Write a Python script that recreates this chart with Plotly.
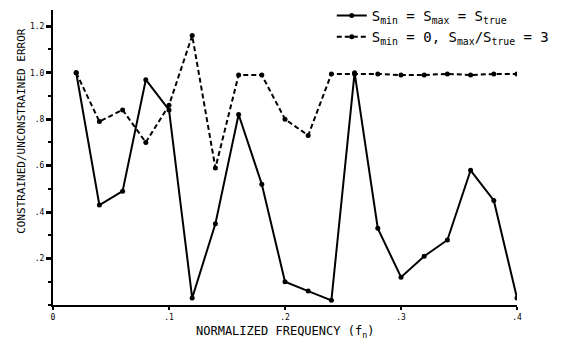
import plotly.graph_objects as go

freq = [0.02, 0.04, 0.06, 0.08, 0.10, 0.12, 0.14, 0.16, 0.18, 0.20,
        0.22, 0.24, 0.26, 0.28, 0.30, 0.32, 0.34, 0.36, 0.38, 0.40]
err_equal = [1.00, 0.43, 0.49, 0.97, 0.84, 0.03, 0.35, 0.82, 0.52, 0.10,
             0.06, 0.02, 1.00, 0.33, 0.12, 0.21, 0.28, 0.58, 0.45, 0.03]
err_bounded = [1.00, 0.79, 0.84, 0.70, 0.86, 1.16, 0.59, 0.99, 0.99, 0.80,
               0.73, 0.995, 0.995, 0.995, 0.99, 0.99, 0.995, 0.99, 0.995, 0.995]

x_ticks = [0, 0.1, 0.2, 0.3, 0.4]
x_tick_text = ["0", ".1", ".2", ".3", ".4"]
y_ticks = [0.2, 0.4, 0.6, 0.8, 1.0, 1.2]
y_tick_text = [".2", ".4", ".6", ".8", "1.0", "1.2"]

FONT = "DejaVu Sans Mono"

fig = go.Figure()
fig.add_trace(go.Scatter(
    x=freq, y=err_equal, mode="lines+markers",
    name="S<sub>min</sub> = S<sub>max</sub> = S<sub>true</sub>",
    line=dict(color="black", width=2, dash="solid"),
    marker=dict(color="black", size=5)))
fig.add_trace(go.Scatter(
    x=freq, y=err_bounded, mode="lines+markers",
    name="S<sub>min</sub> = 0, S<sub>max</sub>/S<sub>true</sub> = 3",
    line=dict(color="black", width=2, dash="5px,3px"),
    marker=dict(color="black", size=5)))

fig.update_layout(
    width=575, height=345,
    margin=dict(l=53, r=58, t=10, b=40, autoexpand=False),
    paper_bgcolor="white", plot_bgcolor="white",
    font=dict(family=FONT, color="black", size=11),
    showlegend=True,
    legend=dict(xref="container", yref="container", x=0.577, y=1.0,
                xanchor="left", yanchor="top",
                bgcolor="rgba(0,0,0,0)", font=dict(family=FONT, size=14),
                tracegroupgap=0),
    xaxis=dict(
        range=[0, 0.4], tickvals=x_ticks, ticktext=x_tick_text,
        showgrid=False, zeroline=False, showline=True, linecolor="black",
        linewidth=2, ticks="outside", ticklen=3, tickwidth=2, tickcolor="black",
        tickfont=dict(size=8, family=FONT), automargin=False),
    yaxis=dict(
        range=[0, 1.27], tickvals=y_ticks, ticktext=y_tick_text,
        showgrid=False, zeroline=False, showline=True, linecolor="black",
        linewidth=2, ticks="outside", ticklen=5, tickwidth=3, tickcolor="black",
        tickfont=dict(size=8, family=FONT), automargin=False,
        minor=dict(dtick=0.1, tick0=0.1, ticks="outside", ticklen=3,
                   tickwidth=2, tickcolor="black", showgrid=False)),
    annotations=[
        dict(text="NORMALIZED FREQUENCY (f<sub>n</sub>)", xref="paper", yref="paper",
             x=0.5, y=-0.09, xanchor="center", yanchor="middle", showarrow=False,
             font=dict(size=12, family=FONT)),
        dict(text="CONSTRAINED/UNCONSTRAINED ERROR", xref="paper", yref="paper",
             x=-0.067, y=0.59, xanchor="center", yanchor="middle", showarrow=False,
             textangle=-90, font=dict(size=11, family=FONT)),
    ],
)

fig.write_html("out.html", config={"displayModeBar": False},
               post_script="document.body.style.margin='0';")
